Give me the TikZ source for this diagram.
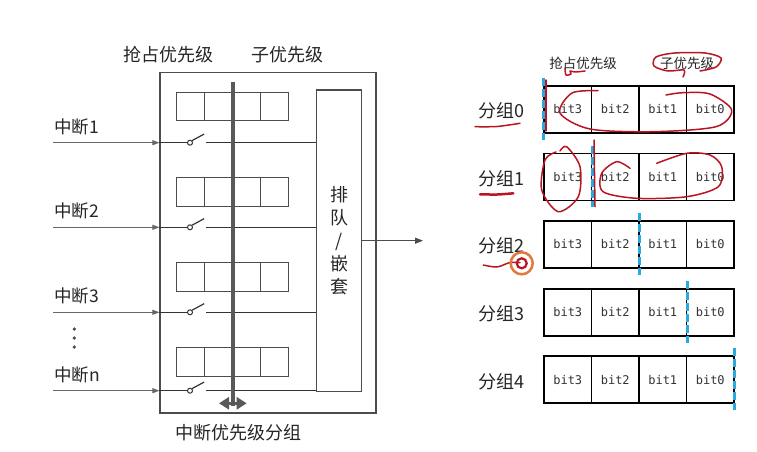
\documentclass[tikz,border=0pt]{standalone}
\usepackage{fontspec}
\setmainfont{Noto Sans CJK SC}
\newfontfamily\monof{DejaVu Sans Mono}
\usetikzlibrary{arrows.meta}
\definecolor{pen}{RGB}{185,20,35}
\definecolor{cyanmark}{RGB}{40,170,225}
\definecolor{cursorc}{RGB}{225,120,60}
\begin{document}
\begin{tikzpicture}[x=1pt,y=-1pt,
 txt/.style={inner sep=0pt, text=black!85, font=\fontsize{18}{20}\selectfont},
 smalltxt/.style={inner sep=0pt, text=black!85, font=\fontsize{13.5}{15}\selectfont},
 regcell/.style={draw=black!70, line width=1pt, minimum width=28pt, minimum height=28.4pt, inner sep=0pt},
 bitcell/.style={draw=black, line width=1.6pt, minimum width=47.5pt, minimum height=47pt, inner sep=0pt, text=black!80, font=\monof\fontsize{12}{14}\selectfont},
 inarrow/.style={draw=black!60, line width=1pt, -{Triangle[length=7pt,width=5pt]}},
 sigline/.style={draw=black!80, line width=1.2pt},
 bar/.style={draw=black!65, line width=4pt},
 split/.style={draw=cyanmark, line width=3pt, dash pattern=on 8pt off 3pt},
 redpen/.style={draw=pen, line width=1.5pt, line cap=round, line join=round},
 switchc/.style={circle, draw=black!80, fill=white, line width=1pt, minimum size=5pt, inner sep=0pt},
]
\useasboundingbox[fill=white] (0,0) rectangle (757,452);

% ---------- left diagram ----------
\node[draw=black!70, line width=1.2pt, minimum width=216pt, minimum height=340.3pt, inner sep=0pt] (outer) at (268,242.85) {};
\node[draw=black!70, line width=1.2pt, minimum width=45pt, minimum height=301.7pt, inner sep=0pt,
      align=center, font=\fontsize{18}{23}\selectfont, text=black!85] (queue) at (339.2,240.85) {排\\队\\/\\嵌\\套};

\node[txt] (pretop) at (168,55) {抢占优先级};
\node[txt] (subtop) at (287,55) {子优先级};
\node[txt] (bottom) at (238,433) {中断优先级分组};

\foreach \r/\yc in {1/106.5,2/191.9,3/276.9,4/361.9}{
  \foreach \c/\xc in {1/190.7,2/218.7,3/246.7,4/274.7}{
    \node[regcell] (reg\r-\c) at (\xc,\yc) {};
  }
}

\foreach \r/\y/\name in {1/142.7/中断1,2/227.3/中断2,3/312.3/中断3,4/390.7/中断n}{
  \coordinate (in\r) at (53,\y);
  \coordinate (on\r) at (206,\y);
  \node[switchc] (sw\r) at (190,\y) {};
  \draw[inarrow] (in\r) -- (outer.west |- in\r);
  \draw[sigline] (outer.west |- in\r) -- (sw\r.west);
  \draw[sigline] (sw\r.north east) -- ++(12,-6.5);
  \draw[sigline] (on\r) -- (queue.west |- on\r);
  \node[txt, anchor=west, font=\fontsize{17.5}{19}\selectfont] (lab\r) at ({54},{\y-16}) {\name};
}

\foreach \i/\y in {1/329,2/338,3/347}{
  \fill[black!70] (74.3,\y) circle (1.8pt);
}

\coordinate (bartop) at (232.7,81.7);
\coordinate (barbot) at (232.7,406);
\draw[bar] (bartop) -- (barbot);
\coordinate (dl) at (219,403.3);
\coordinate (dr) at (246.7,403.3);
\draw[draw=black!65, line width=3pt, {Triangle[length=10pt,width=12pt]}-{Triangle[length=10pt,width=12pt]}] (dl) -- (dr);

\coordinate (outtip) at (423,240.7);
\draw[draw=black!70, line width=1.2pt, -{Triangle[length=8pt,width=6pt]}] (queue.east |- outtip) -- (outtip);

% ---------- right diagram ----------
\node[smalltxt] (preR) at (583,63) {抢占优先级};
\node[smalltxt] (subR) at (687,63) {子优先级};

\foreach \r/\yc in {0/109.2,1/176.8,2/244.5,3/312.5,4/379.7}{
  \foreach \c/\xc/\b in {1/567.75/3,2/615.25/2,3/662.75/1,4/710.25/0}{
    \node[bitcell] (g\r-\c) at (\xc,\yc) {bit\b};
  }
  \node[txt] (grp\r) at ({501.7},{\yc+1.5}) {分组\r};
}

\draw[split] ([yshift=7pt]g0-1.north west) -- ([yshift=-6pt]g0-1.south west);
\draw[split] ([yshift=7pt]g1-1.north east) -- ([yshift=-6pt]g1-1.south east);
\draw[split] ([yshift=7pt]g2-2.north east) -- ([yshift=-6pt]g2-2.south east);
\draw[split] ([yshift=7pt]g3-3.north east) -- ([yshift=-6pt]g3-3.south east);
\draw[split] ([yshift=7pt]g4-4.north east) -- ([yshift=-6pt]g4-4.south east);

% ---------- red hand annotations ----------
\draw[redpen] plot[smooth] coordinates {(565,68) (566,75) (571,74) (570,71) (575,72) (585,71)};
\draw[redpen] plot[smooth] coordinates {(683,77) (684,70) (668,71) (654,66) (656,57) (675,53) (705,53) (721,58) (716,67) (700,71)};
\draw[redpen] plot[smooth] coordinates {(598,90.7) (572,93) (560,113) (590,129) (653,131.7) (716,126.7) (731.7,110) (710,94) (683,92.7) (666,95)};
\draw[redpen] (546,80) -- (546,131);
\draw[redpen] plot[smooth] coordinates {(475,126.7) (497,126.5) (520,123.3)};
\draw[redpen] plot[smooth] coordinates {(560,151) (566.7,146.7) (580,166.7) (578.3,196.7) (558.3,211.7) (541.7,190) (545,160) (556,152)};
\draw[redpen] (594,140) -- (595,206.7);
\draw[redpen] plot[smooth] coordinates {(630,168.3) (616.7,161.7) (601.7,173.3) (603,191.7) (636.7,198.3) (686.7,196.7) (718.3,186.7) (721.7,166.7) (710,155) (686.7,153.3) (656.7,163.3)};
\draw[redpen, line width=2.5pt] plot[smooth] coordinates {(480,194.3) (497,194.5) (513.3,193.3)};
\draw[redpen] plot[smooth] coordinates {(483.3,265) (497,267) (510,262.5) (520,262.7)};
\node[circle, draw=cursorc, line width=2.5pt, minimum size=22pt, inner sep=0pt] (cursor) at (521.7,263.3) {};
\node[circle, draw=pen, line width=2.2pt, minimum size=10pt, inner sep=0pt] (dot) at (521.7,263.3) {};
\end{tikzpicture}
\end{document}
